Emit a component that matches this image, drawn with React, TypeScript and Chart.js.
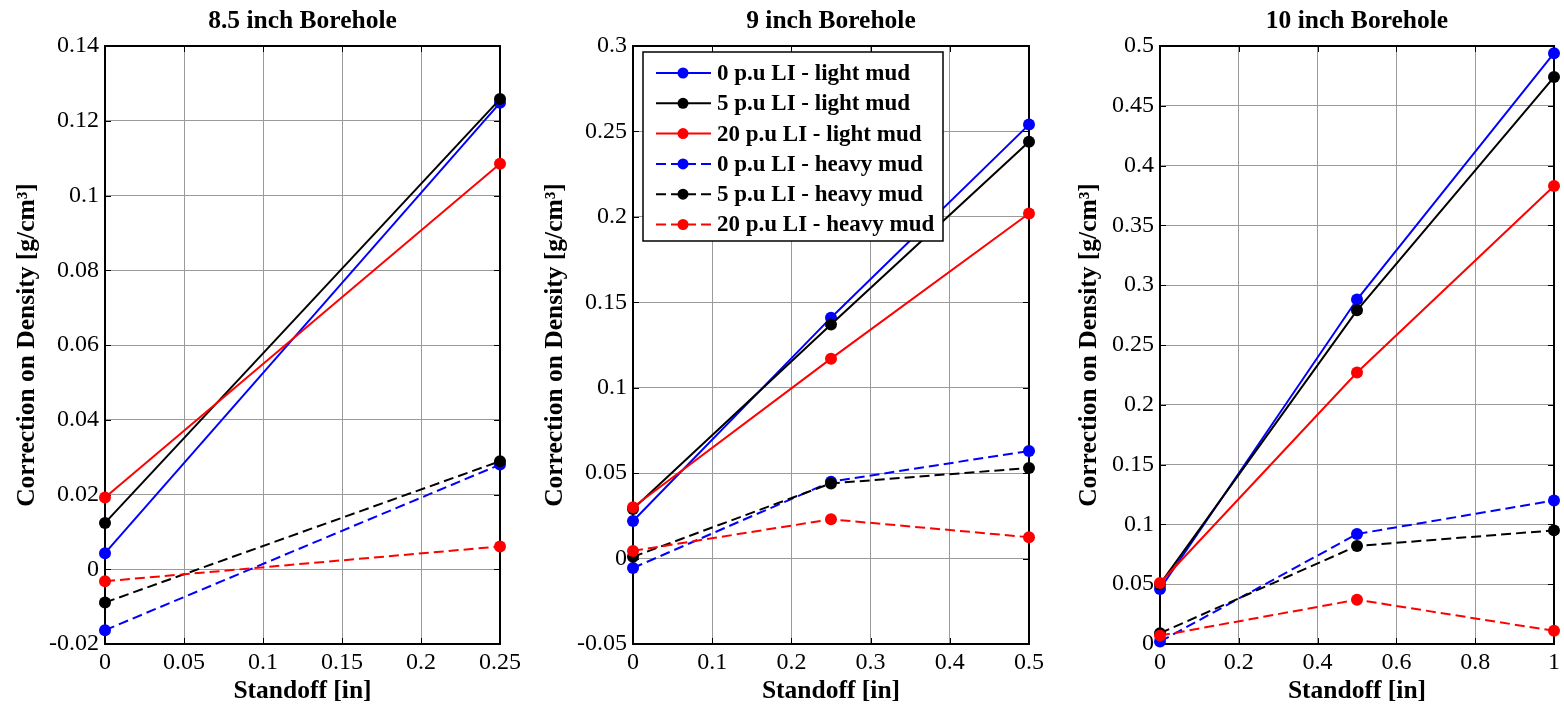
import React, { useEffect, useRef } from 'react';
import { Chart, registerables } from 'chart.js';

Chart.register(...registerables);

const FONT = '"Liberation Serif", "Times New Roman", serif';

// ---- series meta ----
const seriesNames = [
  '0 p.u LI - light mud',
  '5 p.u LI - light mud',
  '20 p.u LI - light mud',
  '0 p.u LI - heavy mud',
  '5 p.u LI - heavy mud',
  '20 p.u LI - heavy mud',
];
const seriesColors = ['#0000ff', '#000000', '#ff0000', '#0000ff', '#000000', '#ff0000'];
const seriesDashed = [false, false, false, true, true, true];

const xAxisTitle = 'Standoff [in]';
const yAxisTitle = 'Correction on Density [g/cm³]';

// ---- 8.5 inch borehole ----
const title85 = '8.5 inch Borehole';
const standoff85 = [0, 0.25];
const light0_85 = [0.0043, 0.1248];
const light5_85 = [0.0124, 0.1258];
const light20_85 = [0.0192, 0.1085];
const heavy0_85 = [-0.0163, 0.028];
const heavy5_85 = [-0.0089, 0.0289];
const heavy20_85 = [-0.0032, 0.0061];
const xTicks85 = [0, 0.05, 0.1, 0.15, 0.2, 0.25];
const xTickLabels85 = ['0', '0.05', '0.1', '0.15', '0.2', '0.25'];
const yTicks85 = [-0.02, 0, 0.02, 0.04, 0.06, 0.08, 0.1, 0.12, 0.14];
const yTickLabels85 = ['-0.02', '0', '0.02', '0.04', '0.06', '0.08', '0.1', '0.12', '0.14'];

// ---- 9 inch borehole ----
const title9 = '9 inch Borehole';
const standoff9 = [0, 0.25, 0.5];
const light0_9 = [0.022, 0.141, 0.254];
const light5_9 = [0.029, 0.137, 0.244];
const light20_9 = [0.030, 0.117, 0.202];
const heavy0_9 = [-0.0055, 0.045, 0.063];
const heavy5_9 = [0.001, 0.044, 0.053];
const heavy20_9 = [0.0045, 0.023, 0.0125];
const xTicks9 = [0, 0.1, 0.2, 0.3, 0.4, 0.5];
const xTickLabels9 = ['0', '0.1', '0.2', '0.3', '0.4', '0.5'];
const yTicks9 = [-0.05, 0, 0.05, 0.1, 0.15, 0.2, 0.25, 0.3];
const yTickLabels9 = ['-0.05', '0', '0.05', '0.1', '0.15', '0.2', '0.25', '0.3'];

// ---- 10 inch borehole ----
const title10 = '10 inch Borehole';
const standoff10 = [0, 0.5, 1];
const light0_10 = [0.046, 0.288, 0.494];
const light5_10 = [0.050, 0.279, 0.474];
const light20_10 = [0.051, 0.227, 0.383];
const heavy0_10 = [0.002, 0.092, 0.12];
const heavy5_10 = [0.009, 0.082, 0.095];
const heavy20_10 = [0.007, 0.037, 0.011];
const xTicks10 = [0, 0.2, 0.4, 0.6, 0.8, 1];
const xTickLabels10 = ['0', '0.2', '0.4', '0.6', '0.8', '1'];
const yTicks10 = [0, 0.05, 0.1, 0.15, 0.2, 0.25, 0.3, 0.35, 0.4, 0.45, 0.5];
const yTickLabels10 = ['0', '0.05', '0.1', '0.15', '0.2', '0.25', '0.3', '0.35', '0.4', '0.45', '0.5'];

type PanelCfg = {
  left: number;
  width: number;
  yAxisWidth: number;
  yTitlePad: number;
  padRight: number;
  title: string;
  xs: number[];
  series: number[][];
  xTicks: number[];
  xLabels: string[];
  yTicks: number[];
  yLabels: string[];
  legend: boolean;
};

const HEIGHT = 708;
const PLOT_BOTTOM = 644;
const BOLD_SIZE = 25.5;

const panels: PanelCfg[] = [
  {
    left: 0, width: 525, yAxisWidth: 105, yTitlePad: 11.7, padRight: 23,
    title: title85, xs: standoff85,
    series: [light0_85, light5_85, light20_85, heavy0_85, heavy5_85, heavy20_85],
    xTicks: xTicks85, xLabels: xTickLabels85, yTicks: yTicks85, yLabels: yTickLabels85, legend: false,
  },
  {
    left: 525, width: 525, yAxisWidth: 108, yTitlePad: 14.7, padRight: 21,
    title: title9, xs: standoff9,
    series: [light0_9, light5_9, light20_9, heavy0_9, heavy5_9, heavy20_9],
    xTicks: xTicks9, xLabels: xTickLabels9, yTicks: yTicks9, yLabels: yTickLabels9, legend: true,
  },
  {
    left: 1050, width: 514, yAxisWidth: 110, yTitlePad: 23.7, padRight: 8,
    title: title10, xs: standoff10,
    series: [light0_10, light5_10, light20_10, heavy0_10, heavy5_10, heavy20_10],
    xTicks: xTicks10, xLabels: xTickLabels10, yTicks: yTicks10, yLabels: yTickLabels10, legend: false,
  },
];

const framePlugin = {
  id: 'matlabFrame',
  beforeDatasetsDraw(chart: any) {
    const { ctx, chartArea: a, scales } = chart;
    ctx.save();
    ctx.strokeStyle = '#000';
    ctx.lineWidth = 1;
    const tl = 6;
    ctx.beginPath();
    scales.x.ticks.forEach((t: any) => {
      const px = Math.round(scales.x.getPixelForValue(t.value)) + 0.5;
      ctx.moveTo(px, a.bottom);
      ctx.lineTo(px, a.bottom - tl);
      ctx.moveTo(px, a.top);
      ctx.lineTo(px, a.top + tl);
    });
    scales.y.ticks.forEach((t: any) => {
      const py = Math.round(scales.y.getPixelForValue(t.value)) + 0.5;
      ctx.moveTo(a.left, py);
      ctx.lineTo(a.left + tl, py);
      ctx.moveTo(a.right, py);
      ctx.lineTo(a.right - tl, py);
    });
    ctx.stroke();
    ctx.lineWidth = 2;
    ctx.strokeRect(a.left, a.top, a.right - a.left, a.bottom - a.top);
    ctx.restore();
  },
  afterDatasetsDraw(chart: any, _args: any, opts: any) {
    if (!opts || !opts.show) return;
    const { ctx, chartArea: a } = chart;
    const bx = a.left + 10;
    const by = a.top + 6;
    const bw = 300;
    const bh = 189;
    ctx.save();
    ctx.fillStyle = '#fff';
    ctx.fillRect(bx, by, bw, bh);
    ctx.lineWidth = 1.5;
    ctx.strokeStyle = '#000';
    ctx.setLineDash([]);
    ctx.strokeRect(bx, by, bw, bh);
    chart.data.datasets.forEach((ds: any, i: number) => {
      const y = by + 21 + i * 30.3;
      ctx.strokeStyle = ds.borderColor;
      ctx.lineWidth = 2;
      ctx.setLineDash(ds.borderDash || []);
      ctx.beginPath();
      ctx.moveTo(bx + 13, y);
      ctx.lineTo(bx + 68, y);
      ctx.stroke();
      ctx.setLineDash([]);
      ctx.fillStyle = ds.pointBackgroundColor;
      ctx.beginPath();
      ctx.arc(bx + 40, y, 5.5, 0, Math.PI * 2);
      ctx.fill();
      ctx.fillStyle = '#000';
      ctx.font = `bold 23px ${FONT}`;
      ctx.textBaseline = 'middle';
      ctx.textAlign = 'left';
      ctx.fillText(ds.label, bx + 74, y + 1);
    });
    ctx.restore();
  },
};

function Panel({ cfg }: { cfg: PanelCfg }) {
  const ref = useRef<HTMLCanvasElement | null>(null);
  useEffect(() => {
    if (!ref.current) return;
    const datasets = cfg.series.map((ys, i) => ({
      label: seriesNames[i],
      data: cfg.xs.map((x, j) => ({ x, y: ys[j] })),
      borderColor: seriesColors[i],
      backgroundColor: seriesColors[i],
      pointBackgroundColor: seriesColors[i],
      pointBorderColor: seriesColors[i],
      pointRadius: 6,
      pointBorderWidth: 0,
      borderWidth: 2,
      borderDash: seriesDashed[i] ? [10, 5] : [],
      tension: 0,
      fill: false,
      clip: false as any,
      order: seriesNames.length - 1 - i,
    }));
    const chart = new Chart(ref.current, {
      type: 'line',
      data: { datasets },
      plugins: [framePlugin as any],
      options: {
        animation: false,
        responsive: false,
        maintainAspectRatio: false,
        events: [],
        layout: { padding: { left: 0, right: cfg.padRight, top: 0, bottom: 0 } },
        plugins: {
          legend: { display: false },
          tooltip: { enabled: false },
          title: {
            display: true,
            text: cfg.title,
            fullSize: false,
            color: '#000',
            font: { family: FONT, size: BOLD_SIZE, weight: 'bold' },
            padding: { top: 6, bottom: 9.4 },
          },
          matlabFrame: { show: cfg.legend },
        } as any,
        scales: {
          x: {
            type: 'linear',
            min: cfg.xTicks[0],
            max: cfg.xTicks[cfg.xTicks.length - 1],
            afterBuildTicks: (s: any) => {
              s.ticks = cfg.xTicks.map((v) => ({ value: v }));
            },
            afterFit: (s: any) => {
              s.height = HEIGHT - PLOT_BOTTOM;
            },
            ticks: {
              autoSkip: false,
              maxRotation: 0,
              padding: 4,
              color: '#000',
              font: { family: FONT, size: 24 },
              callback: (_v: any, idx: number) => cfg.xLabels[idx],
            },
            grid: { color: '#9a9a9a', lineWidth: 1, drawTicks: false },
            border: { display: false },
            title: {
              display: true,
              text: xAxisTitle,
              color: '#000',
              font: { family: FONT, size: BOLD_SIZE, weight: 'bold' },
              padding: { top: 0, bottom: 1.7 },
            },
          },
          y: {
            type: 'linear',
            min: cfg.yTicks[0],
            max: cfg.yTicks[cfg.yTicks.length - 1],
            afterBuildTicks: (s: any) => {
              s.ticks = cfg.yTicks.map((v) => ({ value: v }));
            },
            afterFit: (s: any) => {
              s.width = cfg.yAxisWidth;
            },
            ticks: {
              autoSkip: false,
              padding: 6,
              color: '#000',
              font: { family: FONT, size: 24 },
              callback: (_v: any, idx: number) => cfg.yLabels[idx],
            },
            grid: { color: '#9a9a9a', lineWidth: 1, drawTicks: false },
            border: { display: false },
            title: {
              display: true,
              text: yAxisTitle,
              color: '#000',
              font: { family: FONT, size: BOLD_SIZE, weight: 'bold' },
              padding: { top: cfg.yTitlePad, bottom: 0 },
            },
          },
        },
      } as any,
    });
    return () => chart.destroy();
  }, [cfg]);
  return (
    <canvas
      ref={ref}
      width={cfg.width}
      height={HEIGHT}
      style={{ position: 'absolute', left: cfg.left, top: 0, width: cfg.width, height: HEIGHT }}
    />
  );
}

export default function App() {
  return (
    <div style={{ position: 'absolute', left: 0, top: 0, width: 1564, height: HEIGHT, background: '#fff', overflow: 'hidden' }}>
      {panels.map((p, i) => (
        <Panel key={i} cfg={p} />
      ))}
    </div>
  );
}
